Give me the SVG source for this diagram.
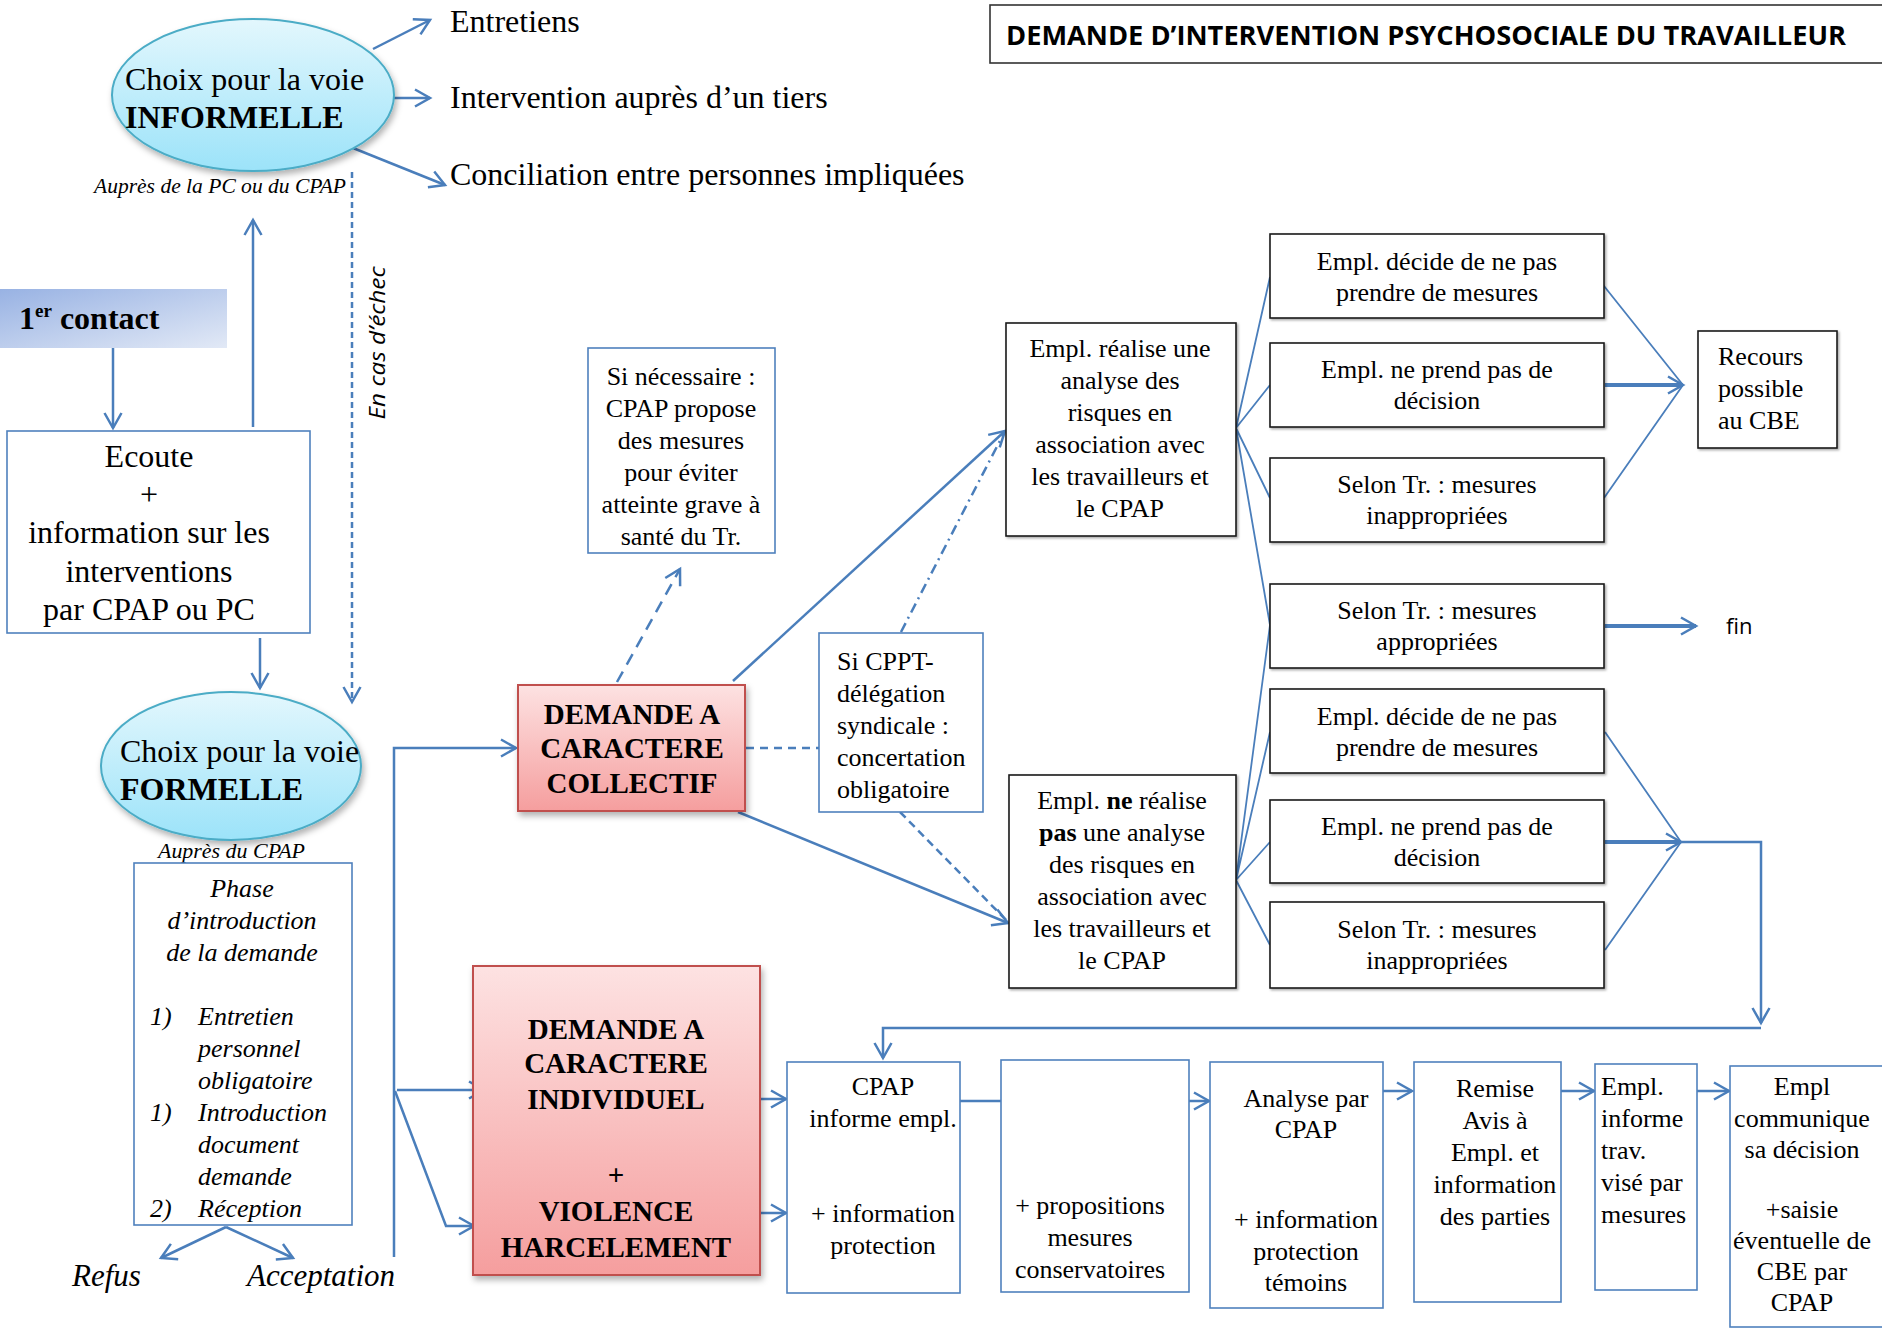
<svg xmlns="http://www.w3.org/2000/svg" width="1882" height="1329" viewBox="0 0 1882 1329">
<style>
.t{font-family:"Liberation Serif","Times New Roman",serif;fill:#000}
.s26{font-size:26px}
.s29{font-size:29px;font-weight:bold}
.s32{font-size:32px}
.it{font-style:italic}
.b{font-weight:bold}
.mid{text-anchor:middle}
.bbox{fill:#fff;stroke:#1a1a1a;stroke-width:1.6}
.ubox{fill:#fff;stroke:#4f81bd;stroke-width:1.6}
.ln{fill:none;stroke:#4a7ebb;stroke-width:2.5}
.fan{fill:none;stroke:#4a7ebb;stroke-width:1.8}
.thick{fill:none;stroke:#4a7ebb;stroke-width:4}
</style>
<defs>
<marker id="ah" markerUnits="userSpaceOnUse" markerWidth="22" markerHeight="22" viewBox="-18 -11 22 22" refX="0" refY="0" orient="auto">
<path d="M-15,-8.5 L0,0 L-15,8.5" fill="none" stroke="#4a7ebb" stroke-width="2.5"/>
</marker>
<linearGradient id="gEll" x1="0" y1="0" x2="0" y2="1">
<stop offset="0" stop-color="#e3f7fd"/><stop offset="1" stop-color="#9ce3f9"/>
</linearGradient>
<linearGradient id="gPink" x1="0" y1="0" x2="0" y2="1">
<stop offset="0" stop-color="#fde2e2"/><stop offset="1" stop-color="#f59e9e"/>
</linearGradient>
<linearGradient id="gContact" x1="0" y1="0" x2="1" y2="1">
<stop offset="0" stop-color="#98b2e3"/><stop offset="1" stop-color="#e2e9f6"/>
</linearGradient>
<filter id="sh" x="-10%" y="-10%" width="130%" height="130%">
<feDropShadow dx="2" dy="4" stdDeviation="3" flood-color="#000" flood-opacity="0.3"/>
</filter>
<filter id="sh2" x="-5%" y="-5%" width="110%" height="110%">
<feDropShadow dx="1.5" dy="1.5" stdDeviation="0.8" flood-color="#000" flood-opacity="0.35"/>
</filter>
</defs>

<g id="connectors">
<!-- informelle outputs -->
<path class="ln" d="M373,49 L430,20" marker-end="url(#ah)"/>
<path class="ln" d="M394,98 L430,98" marker-end="url(#ah)"/>
<path class="ln" d="M353,148 L445,185" marker-end="url(#ah)"/>
<!-- en cas d'echec dashed -->
<path class="ln" d="M352,172 L352,702" stroke-width="2" stroke-dasharray="6,4" marker-end="url(#ah)"/>
<!-- 1er contact to ecoute -->
<path class="ln" d="M113,348 L113,428" marker-end="url(#ah)"/>
<!-- ecoute up to informelle -->
<path class="ln" d="M253,427 L253,220" marker-end="url(#ah)"/>
<!-- ecoute down to formelle -->
<path class="ln" d="M260,638 L260,688" marker-end="url(#ah)"/>
<!-- refus / acceptation -->
<path class="ln" d="M226,1227 L161,1258" marker-end="url(#ah)"/>
<path class="ln" d="M226,1227 L293,1258" marker-end="url(#ah)"/>
<!-- acceptation up to collectif -->
<path class="ln" d="M394,1257 L394,748 L516,748" marker-end="url(#ah)"/>
<path class="ln" d="M397,1090 L484,1090" marker-end="url(#ah)"/>
<path class="ln" d="M395,1091 L446,1226 L474,1226" marker-end="url(#ah)"/>
<!-- collectif connections -->
<path class="ln" d="M617,682 L680,569" stroke-dasharray="12,8" marker-end="url(#ah)"/>
<path class="ln" d="M733,681 L1005,431" marker-end="url(#ah)"/>
<path class="ln" d="M746,748 L819,748" stroke-width="2" stroke-dasharray="8,6"/>
<path class="ln" d="M901,632 L1004,433" stroke-width="1.6" stroke-dasharray="10,5,2,5"/>
<path class="ln" d="M738,812 L1008,923" marker-end="url(#ah)"/>
<path class="ln" d="M900,812 L1008,922" stroke-width="1.6" stroke-dasharray="8,5"/>
<!-- fan from realise -->
<path class="fan" d="M1236,428 L1270,277 M1236,428 L1270,385 M1236,428 L1270,498 M1236,428 L1270,625"/>
<!-- fan from ne realise -->
<path class="fan" d="M1236,880 L1270,625 M1236,880 L1270,732 M1236,880 L1270,842 M1236,880 L1270,945"/>
<!-- to recours -->
<path class="fan" d="M1596,276 L1683,385 M1604,498 L1683,385"/>
<path class="thick" d="M1605,385 L1683,385" marker-end="url(#ah)"/>
<!-- to fin -->
<path class="thick" d="M1605,626 L1696,626" marker-end="url(#ah)"/>
<!-- lower group -->
<path class="fan" d="M1605,732 L1681,842 M1605,950 L1681,842"/>
<path class="thick" d="M1605,842 L1681,842" marker-end="url(#ah)"/>
<path class="ln" d="M1681,842 L1761,842 L1761,1023" marker-end="url(#ah)"/>
<path class="ln" d="M1761,1028 L883,1028 L883,1058" marker-end="url(#ah)"/>
<!-- individuel to CPAP informe -->
<path class="ln" d="M732,1099 L786,1099" marker-end="url(#ah)"/>
<path class="ln" d="M703,1213 L786,1213" marker-end="url(#ah)"/>
<!-- bottom chain -->
<path class="ln" d="M960,1101 L1001,1101" stroke-width="3.5"/>
<path class="ln" d="M1189,1101 L1209,1101" marker-end="url(#ah)"/>
<path class="ln" d="M1383,1091 L1412,1091" marker-end="url(#ah)"/>
<path class="ln" d="M1561,1091 L1594,1091" marker-end="url(#ah)"/>
<path class="ln" d="M1697,1091 L1729,1091" marker-end="url(#ah)"/>
</g>

<g id="title">
<rect x="990" y="5" width="900" height="58" fill="#fff" stroke="#333" stroke-width="1.6"/>
<text x="1006" y="45" font-family="'Open Sans','Liberation Sans',sans-serif" font-weight="bold" font-size="26" textLength="840" lengthAdjust="spacingAndGlyphs">DEMANDE D’INTERVENTION PSYCHOSOCIALE DU TRAVAILLEUR</text>
</g>

<g id="informelle">
<ellipse cx="253" cy="95" rx="141" ry="76" fill="url(#gEll)" stroke="#4bacc6" stroke-width="2" filter="url(#sh)"/>
<text class="t s32" x="125" y="90">Choix pour la voie</text>
<text class="t s32 b" x="125" y="128">INFORMELLE</text>
<text class="t it" x="94" y="193" font-size="21" textLength="252" lengthAdjust="spacingAndGlyphs">Auprès de la PC ou du CPAP</text>
</g>

<g id="options-informelles">
<text class="t s32" x="450" y="32">Entretiens</text>
<text class="t s32" x="450" y="108">Intervention auprès d’un tiers</text>
<text class="t s32" x="450" y="185">Conciliation entre personnes impliquées</text>
</g>

<g id="en-cas-echec">
<text x="385" y="343" font-family="'Open Sans','DejaVu Sans',sans-serif" font-style="italic" font-size="22" text-anchor="middle" textLength="153" lengthAdjust="spacingAndGlyphs" transform="rotate(-90 385 343)">En cas d’échec</text>
</g>

<g id="premier-contact">
<rect x="0" y="289" width="227" height="59" fill="url(#gContact)"/>
<text class="t s32 b" x="19" y="329">1<tspan font-size="19" dy="-12">er</tspan><tspan dy="12"> contact</tspan></text>
</g>

<g id="ecoute">
<rect class="ubox" x="7" y="431" width="303" height="202"/>
<text class="t s32 mid" x="149" y="467">Ecoute</text>
<text class="t s32 mid" x="149" y="505">+</text>
<text class="t s32 mid" x="149" y="543">information sur les</text>
<text class="t s32 mid" x="149" y="582">interventions</text>
<text class="t s32 mid" x="149" y="620">par CPAP ou PC</text>
</g>

<g id="formelle">
<ellipse cx="231" cy="766" rx="130" ry="74" fill="url(#gEll)" stroke="#4bacc6" stroke-width="2" filter="url(#sh)"/>
<text class="t s32" x="120" y="762">Choix pour la voie</text>
<text class="t s32 b" x="120" y="800">FORMELLE</text>
<text class="t it" x="158" y="858" font-size="21" textLength="147" lengthAdjust="spacingAndGlyphs">Auprès du CPAP</text>
</g>

<g id="phase">
<rect class="ubox" x="134" y="863" width="218" height="362"/>
<text class="t s26 it mid" x="242" y="897">Phase</text>
<text class="t s26 it mid" x="242" y="929">d’introduction</text>
<text class="t s26 it mid" x="242" y="961">de la demande</text>
<text class="t s26 it" x="150" y="1025">1)</text>
<text class="t s26 it" x="198" y="1025">Entretien</text>
<text class="t s26 it" x="198" y="1057">personnel</text>
<text class="t s26 it" x="198" y="1089">obligatoire</text>
<text class="t s26 it" x="150" y="1121">1)</text>
<text class="t s26 it" x="198" y="1121">Introduction</text>
<text class="t s26 it" x="198" y="1153">document</text>
<text class="t s26 it" x="198" y="1185">demande</text>
<text class="t s26 it" x="150" y="1217">2)</text>
<text class="t s26 it" x="198" y="1217">Réception</text>
</g>

<g id="refus">
<text class="t it" x="72" y="1286" font-size="31">Refus</text>
</g>
<g id="acceptation">
<text class="t it" x="247" y="1286" font-size="31">Acceptation</text>
</g>

<g id="collectif">
<rect x="518" y="685" width="227" height="126" fill="url(#gPink)" stroke="#c0504d" stroke-width="2" filter="url(#sh)"/>
<text class="t s29 mid" x="632" y="724">DEMANDE A</text>
<text class="t s29 mid" x="632" y="758">CARACTERE</text>
<text class="t s29 mid" x="632" y="793">COLLECTIF</text>
</g>

<g id="individuel">
<rect x="473" y="966" width="287" height="309" fill="url(#gPink)" stroke="#c0504d" stroke-width="2" filter="url(#sh)"/>
<text class="t s29 mid" x="616" y="1039">DEMANDE A</text>
<text class="t s29 mid" x="616" y="1073">CARACTERE</text>
<text class="t s29 mid" x="616" y="1109">INDIVIDUEL</text>
<text class="t s29 mid" x="616" y="1185" font-weight="normal">+</text>
<text class="t s29 mid" x="616" y="1221">VIOLENCE</text>
<text class="t s29 mid" x="616" y="1257">HARCELEMENT</text>
</g>

<g id="si-necessaire">
<rect class="ubox" x="588" y="348" width="187" height="205"/>
<text class="t s26 mid" x="681" y="385">Si nécessaire :</text>
<text class="t s26 mid" x="681" y="417">CPAP propose</text>
<text class="t s26 mid" x="681" y="449">des mesures</text>
<text class="t s26 mid" x="681" y="481">pour éviter</text>
<text class="t s26 mid" x="681" y="513">atteinte grave à</text>
<text class="t s26 mid" x="681" y="545">santé du Tr.</text>
</g>

<g id="si-cppt">
<rect class="ubox" x="819" y="633" width="164" height="179"/>
<text class="t s26" x="837" y="670">Si CPPT-</text>
<text class="t s26" x="837" y="702">délégation</text>
<text class="t s26" x="837" y="734">syndicale :</text>
<text class="t s26" x="837" y="766">concertation</text>
<text class="t s26" x="837" y="798">obligatoire</text>
</g>

<g id="realise">
<rect class="bbox" x="1006" y="323" width="230" height="213" filter="url(#sh2)"/>
<text class="t s26 mid" x="1120" y="357">Empl. réalise une</text>
<text class="t s26 mid" x="1120" y="389">analyse des</text>
<text class="t s26 mid" x="1120" y="421">risques en</text>
<text class="t s26 mid" x="1120" y="453">association avec</text>
<text class="t s26 mid" x="1120" y="485">les travailleurs et</text>
<text class="t s26 mid" x="1120" y="517">le CPAP</text>
</g>

<g id="ne-realise">
<rect class="bbox" x="1009" y="775" width="227" height="213" filter="url(#sh2)"/>
<text class="t s26 mid" x="1122" y="809">Empl. <tspan class="b">ne</tspan> réalise</text>
<text class="t s26 mid" x="1122" y="841"><tspan class="b">pas</tspan> une analyse</text>
<text class="t s26 mid" x="1122" y="873">des risques en</text>
<text class="t s26 mid" x="1122" y="905">association avec</text>
<text class="t s26 mid" x="1122" y="937">les travailleurs et</text>
<text class="t s26 mid" x="1122" y="969">le CPAP</text>
</g>

<g id="decide-1">
<rect class="bbox" x="1270" y="234" width="334" height="84" filter="url(#sh2)"/>
<text class="t s26 mid" x="1437" y="270">Empl. décide de ne pas</text>
<text class="t s26 mid" x="1437" y="301">prendre de mesures</text>
</g>
<g id="ne-prend-1">
<rect class="bbox" x="1270" y="343" width="334" height="84" filter="url(#sh2)"/>
<text class="t s26 mid" x="1437" y="378">Empl. ne prend pas de</text>
<text class="t s26 mid" x="1437" y="409">décision</text>
</g>
<g id="inappropriees-1">
<rect class="bbox" x="1270" y="458" width="334" height="84" filter="url(#sh2)"/>
<text class="t s26 mid" x="1437" y="493">Selon Tr. : mesures</text>
<text class="t s26 mid" x="1437" y="524">inappropriées</text>
</g>
<g id="appropriees">
<rect class="bbox" x="1270" y="584" width="334" height="84" filter="url(#sh2)"/>
<text class="t s26 mid" x="1437" y="619">Selon Tr. : mesures</text>
<text class="t s26 mid" x="1437" y="650">appropriées</text>
</g>
<g id="decide-2">
<rect class="bbox" x="1270" y="689" width="334" height="84" filter="url(#sh2)"/>
<text class="t s26 mid" x="1437" y="725">Empl. décide de ne pas</text>
<text class="t s26 mid" x="1437" y="756">prendre de mesures</text>
</g>
<g id="ne-prend-2">
<rect class="bbox" x="1270" y="800" width="334" height="83" filter="url(#sh2)"/>
<text class="t s26 mid" x="1437" y="835">Empl. ne prend pas de</text>
<text class="t s26 mid" x="1437" y="866">décision</text>
</g>
<g id="inappropriees-2">
<rect class="bbox" x="1270" y="902" width="334" height="86" filter="url(#sh2)"/>
<text class="t s26 mid" x="1437" y="938">Selon Tr. : mesures</text>
<text class="t s26 mid" x="1437" y="969">inappropriées</text>
</g>

<g id="recours">
<rect class="bbox" x="1698" y="331" width="139" height="117" filter="url(#sh2)"/>
<text class="t s26" x="1718" y="365">Recours</text>
<text class="t s26" x="1718" y="397">possible</text>
<text class="t s26" x="1718" y="429">au CBE</text>
</g>

<g id="fin">
<text x="1726" y="634" font-family="'Open Sans','Liberation Sans',sans-serif" font-size="22">fin</text>
</g>

<g id="cpap-informe">
<rect class="ubox" x="787" y="1062" width="173" height="231"/>
<text class="t s26 mid" x="883" y="1095">CPAP</text>
<text class="t s26 mid" x="883" y="1127">informe empl.</text>
<text class="t s26 mid" x="883" y="1222">+ information</text>
<text class="t s26 mid" x="883" y="1254">protection</text>
</g>

<g id="propositions">
<rect class="ubox" x="1001" y="1060" width="188" height="232"/>
<text class="t s26 mid" x="1090" y="1214">+ propositions</text>
<text class="t s26 mid" x="1090" y="1246">mesures</text>
<text class="t s26 mid" x="1090" y="1278">conservatoires</text>
</g>

<g id="analyse">
<rect class="ubox" x="1210" y="1062" width="173" height="246"/>
<text class="t s26 mid" x="1306" y="1107">Analyse par</text>
<text class="t s26 mid" x="1306" y="1138">CPAP</text>
<text class="t s26 mid" x="1306" y="1228">+ information</text>
<text class="t s26 mid" x="1306" y="1260">protection</text>
<text class="t s26 mid" x="1306" y="1291">témoins</text>
</g>

<g id="remise">
<rect class="ubox" x="1414" y="1062" width="147" height="240"/>
<text class="t s26 mid" x="1495" y="1097">Remise</text>
<text class="t s26 mid" x="1495" y="1129">Avis à</text>
<text class="t s26 mid" x="1495" y="1161">Empl. et</text>
<text class="t s26 mid" x="1495" y="1193">information</text>
<text class="t s26 mid" x="1495" y="1225">des parties</text>
</g>

<g id="informe-trav">
<rect class="ubox" x="1595" y="1064" width="102" height="226"/>
<text class="t s26" x="1601" y="1095">Empl.</text>
<text class="t s26" x="1601" y="1127">informe</text>
<text class="t s26" x="1601" y="1159">trav.</text>
<text class="t s26" x="1601" y="1191">visé par</text>
<text class="t s26" x="1601" y="1223">mesures</text>
</g>

<g id="communique">
<rect class="ubox" x="1730" y="1066" width="160" height="261"/>
<text class="t s26 mid" x="1802" y="1095">Empl</text>
<text class="t s26 mid" x="1802" y="1127">communique</text>
<text class="t s26 mid" x="1802" y="1158">sa décision</text>
<text class="t s26 mid" x="1802" y="1218">+saisie</text>
<text class="t s26 mid" x="1802" y="1249">éventuelle de</text>
<text class="t s26 mid" x="1802" y="1280">CBE par</text>
<text class="t s26 mid" x="1802" y="1311">CPAP</text>
</g>
</svg>
